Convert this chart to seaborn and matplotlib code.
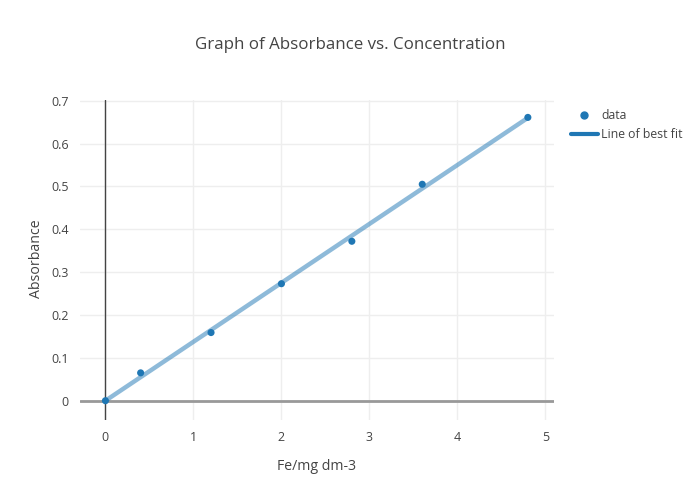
import matplotlib
matplotlib.use("Agg")
import matplotlib.pyplot as plt
import seaborn as sns
import pandas as pd
from matplotlib.lines import Line2D

conc = [0.0, 0.4, 1.2, 2.0, 2.8, 3.6, 4.8]
absorb = [0.0, 0.065, 0.159, 0.273, 0.372, 0.505, 0.661]
fit_x = [0.0, 4.8]
fit_y = [0.0, 0.66]
xticks = [0, 1, 2, 3, 4, 5]
yticks = [0, 0.1, 0.2, 0.3, 0.4, 0.5, 0.6, 0.7]
ytick_labels = ["0", "0.1", "0.2", "0.3", "0.4", "0.5", "0.6", "0.7"]

sns.set_style("white")
plt.rcParams['font.family'] = ['Open Sans', 'DejaVu Sans']

fig = plt.figure(figsize=(7, 5), dpi=100)
ax = fig.add_axes([80/700, 80/500, (554-80)/700, 320/500])

df_pts = pd.DataFrame({"x": conc, "y": absorb})
df_fit = pd.DataFrame({"x": fit_x, "y": fit_y})

for v in xticks:
    ax.axvline(v, color="#eeeeee", lw=1, zorder=0)
for v in yticks:
    ax.axhline(v, color="#eeeeee", lw=1, zorder=0)
ax.axhline(0, color="#999999", lw=2, zorder=1)
ax.axvline(0, color="#444444", lw=1, zorder=1)

sns.lineplot(data=df_fit, x="x", y="y", ax=ax, color="#1f77b4", alpha=0.5,
             lw=3.2, zorder=2, legend=False)
sns.scatterplot(data=df_pts, x="x", y="y", ax=ax, color="#1f77b4", s=26,
                edgecolor="none", zorder=3, legend=False)

ax.set_xlim(-0.289, 5.097)
ax.set_ylim(-0.045, 0.7016)
ax.set_xticks(xticks)
ax.set_yticks(yticks)
ax.set_yticklabels(ytick_labels)
ax.tick_params(length=0, labelsize=9, colors="#444444", pad=8)
for s in ax.spines.values():
    s.set_visible(False)

ax.set_xlabel("")
ax.set_ylabel("")
fig.text(317/700, 1 - 466/500, "Fe/mg dm-3", ha="center", va="center",
         fontsize=10.2, color="#444444")
fig.text(37/700, 1 - 259/500, "Absorbance", ha="center", va="center",
         rotation=90, fontsize=10.2, color="#444444")
fig.text(350/700, 1 - 45/500, "Graph of Absorbance vs. Concentration",
         ha="center", va="center", fontsize=12.2, color="#444444")

handles = [
    Line2D([], [], marker="o", color="#1f77b4", linestyle="none", markersize=5),
    Line2D([], [], color="#1f77b4", lw=3),
]
leg = fig.legend(handles, ["data", "Line of best fit"], loc="upper left",
                 bbox_to_anchor=(566/700, 1 - 104/500), frameon=False,
                 fontsize=8.8, handlelength=2.2, handletextpad=0.3,
                 labelspacing=0.5, borderaxespad=0)
for t in leg.get_texts():
    t.set_color("#444444")

fig.savefig("out.png", dpi=100)
